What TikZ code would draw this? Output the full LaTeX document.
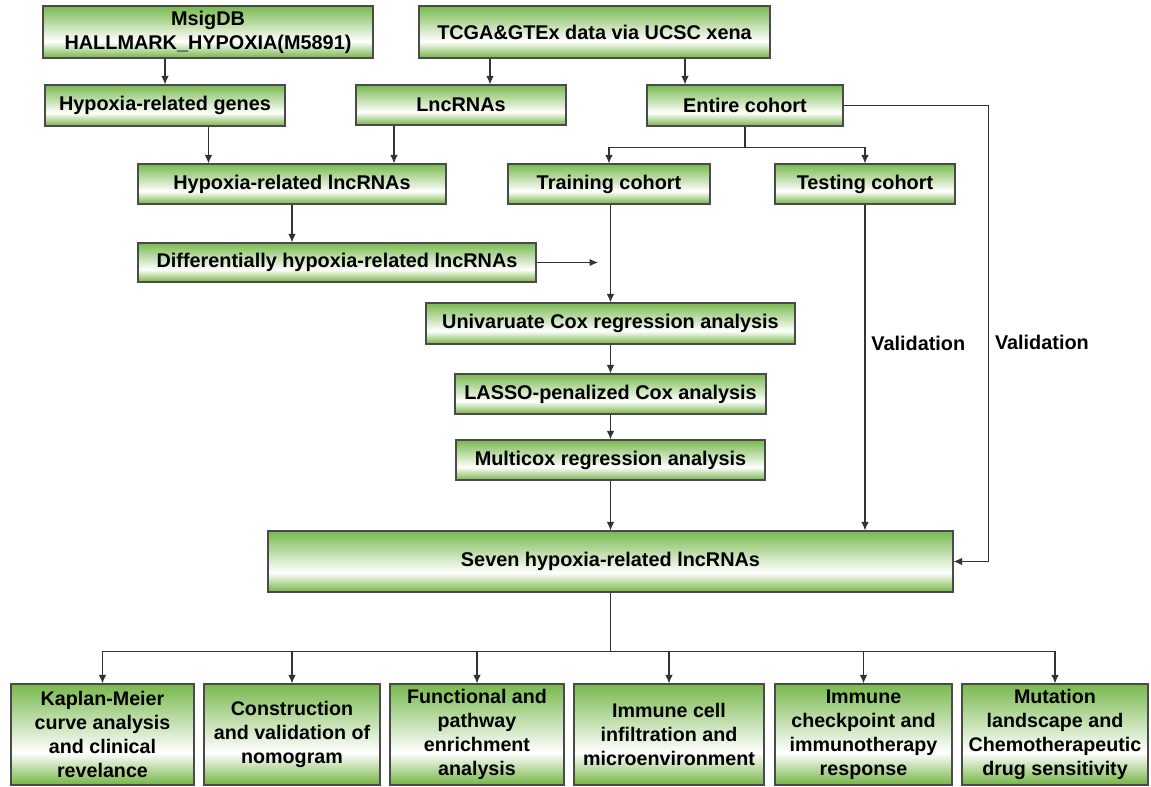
\documentclass[tikz,border=0pt]{standalone}
\usepackage{fontspec}
\setmainfont{Liberation Sans}
\usetikzlibrary{arrows.meta,positioning,calc}
\definecolor{gtop}{HTML}{78B94E}
\definecolor{gbot}{HTML}{74B444}
\definecolor{edgegray}{HTML}{4A4A4A}
\definecolor{linegray}{HTML}{333333}
\pgfdeclareverticalshading{greenfade}{100bp}{color(0bp)=(gbot); color(25bp)=(gbot);
  color(41bp)=(white); color(75bp)=(gtop); color(100bp)=(gtop)}
\tikzset{
  greenbox/.style={draw=edgegray, line width=0.7pt, shade, shading=greenfade,
                   align=center, text=black, inner sep=2pt,
                   font=\fontsize{11.3}{13.5}\selectfont\bfseries},
  vlabel/.style={right, text=black, font=\fontsize{11.3}{13.5}\selectfont\bfseries},
  arr/.style={-{Latex[length=1.7mm,width=1.5mm]}, line width=0.6pt, color=linegray},
  plain/.style={line width=0.6pt, color=linegray}}

\begin{document}
\begin{tikzpicture}[resultbox/.style={greenbox, minimum height=2.02cm, inner xsep=1pt,
                                      font=\fontsize{11.2}{13.7}\selectfont\bfseries}]
    \useasboundingbox (0,0) rectangle (23.02,-15.72);
    \node[greenbox, minimum width=6.6cm, minimum height=1.04cm] (msig) at (4.16,-0.64)
      {MsigDB\\HALLMARK\_HYPOXIA(M5891)};
    \node[greenbox, minimum width=7.02cm, minimum height=1.04cm] (tcga) at (11.89,-0.64)
      {TCGA\&GTEx data via UCSC xena};
    \node[greenbox, minimum width=4.8cm, minimum height=0.82cm] (hgenes) at (3.30,-2.11)
      {Hypoxia-related genes};
    \node[greenbox, minimum width=4.2cm, minimum height=0.8cm] (lnc) at (9.22,-2.10)
      {LncRNAs};
    \node[greenbox, minimum width=3.92cm, minimum height=0.82cm] (entire) at (14.9,-2.11)
      {Entire cohort};
    \node[greenbox, minimum width=6.16cm, minimum height=0.8cm] (hlnc) at (5.84,-3.68)
      {Hypoxia-related lncRNAs};
    \node[greenbox, minimum width=4.04cm, minimum height=0.8cm] (train) at (12.18,-3.68)
      {Training cohort};
    \node[greenbox, minimum width=3.6cm, minimum height=0.8cm] (test) at (17.3,-3.68)
      {Testing cohort};
    \node[greenbox, minimum width=7.96cm, minimum height=0.78cm] (diff) at (6.74,-5.25)
      {Differentially hypoxia-related lncRNAs};
    \node[greenbox, minimum width=7.38cm, minimum height=0.82cm] (uni) at (12.21,-6.47)
      {Univaruate Cox regression analysis};
    \node[greenbox, minimum width=6.22cm, minimum height=0.8cm] (lasso) at (12.21,-7.88)
      {LASSO-penalized Cox analysis};
    \node[greenbox, minimum width=6.18cm, minimum height=0.8cm] (multi) at (12.21,-9.2)
      {Multicox regression analysis};
    \node[greenbox, minimum width=13.7cm, minimum height=1.22cm] (seven) at (12.21,-11.23)
      {Seven hypoxia-related lncRNAs};
    \node[resultbox, minimum width=3.66cm] (km) at (2.05,-14.69)
      {Kaplan-Meier\\curve analysis\\and clinical\\revelance};
    \node[resultbox, minimum width=3.52cm] (nomo) at (5.84,-14.69)
      {Construction\\and validation of\\nomogram};
    \node[resultbox, minimum width=3.48cm] (func) at (9.54,-14.69)
      {Functional and\\pathway\\enrichment\\analysis};
    \node[resultbox, minimum width=3.8cm] (immcell) at (13.38,-14.69)
      {Immune cell\\infiltration and\\microenvironment};
    \node[resultbox, minimum width=3.54cm] (check) at (17.27,-14.69)
      {Immune\\checkpoint and\\immunotherapy\\response};
    \node[resultbox, minimum width=3.72cm] (mut) at (21.1,-14.69)
      {Mutation\\landscape and\\Chemotherapeutic\\drug sensitivity};
    \coordinate (diffend) at (11.96,-5.25);
    \coordinate (split) at ($(entire.south)+(0,-0.42)$);
    \coordinate (bus) at ($(seven.south)+(0,-1.18)$);
    \draw[arr] (msig.south -| hgenes.north) -- (hgenes.north);
    \draw[arr] ([xshift=-2.09cm]tcga.south) -- ([xshift=-2.09cm]tcga.south |- lnc.north);
    \draw[arr] ([xshift=1.81cm]tcga.south) -- ([xshift=1.81cm]tcga.south |- entire.north);
    \draw[arr] ([xshift=0.87cm]hgenes.south) -- ([xshift=0.87cm]hgenes.south |- hlnc.north);
    \draw[arr] ([xshift=-1.34cm]lnc.south) -- ([xshift=-1.34cm]lnc.south |- hlnc.north);
    \draw[arr] (hlnc.south) -- (hlnc.south |- diff.north);
    \draw[arr] (diff.east) -- (diffend);
    \draw[plain] (entire.south) -- (split);
    \draw[arr] (split) -| (train.north);
    \draw[arr] (split) -| (test.north);
    \draw[arr] (uni.north |- train.south) -- (uni.north);
    \draw[arr] (uni.south) -- (lasso.north);
    \draw[arr] (lasso.south) -- (multi.north);
    \draw[arr] (multi.south) -- (multi.south |- seven.north);
    \draw[arr] (test.south) -- node[pos=0.425, vlabel] {Validation}
      (test.south |- seven.north);
    \draw[arr] (entire.east) -- ++(2.9,0) |- node[pos=0.26, vlabel] {Validation}
      (seven.east);
    \draw[plain] (seven.south) -- (bus);
    \draw[arr] (bus) -| (km.north);
    \draw[arr] (bus) -| (nomo.north);
    \draw[arr] (bus) -| (func.north);
    \draw[arr] (bus) -| (immcell.north);
    \draw[arr] (bus) -| (check.north);
    \draw[arr] (bus) -| (mut.north);
  \end{tikzpicture}
\end{document}
